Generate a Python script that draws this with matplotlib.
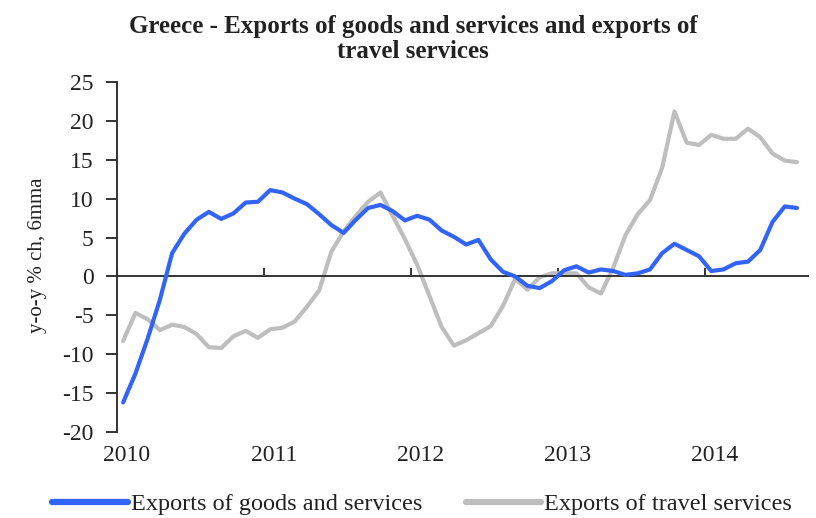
import matplotlib
matplotlib.use("Agg")
import matplotlib.pyplot as plt
import numpy as np

# Monthly data, Jan 2010 - Aug 2014 (y-o-y % ch, 6mma)
months = [f"{y}-{m:02d}" for y in range(2010, 2015) for m in range(1, 13)][:56]

goods_services = [
    -16.2, -12.5, -8.0, -3.0, 3.0, 5.5, 7.3, 8.3, 7.4, 8.1, 9.5, 9.6,
    11.1, 10.8, 10.0, 9.3, 8.0, 6.6, 5.6, 7.3, 8.8, 9.2, 8.4, 7.2,
    7.8, 7.3, 5.9, 5.1, 4.1, 4.7, 2.2, 0.6, 0.0, -1.2, -1.5, -0.6,
    0.8, 1.3, 0.5, 0.9, 0.7, 0.2, 0.4, 0.9, 3.0, 4.2, 3.4, 2.6,
    0.7, 0.9, 1.7, 1.9, 3.4, 7.0, 9.0, 8.8,
]

travel = [
    -8.3, -4.7, -5.5, -6.9, -6.2, -6.5, -7.4, -9.1, -9.2, -7.7, -7.0, -7.9,
    -6.8, -6.6, -5.8, -3.9, -1.8, 3.2, 5.8, 7.8, 9.6, 10.8, 7.8, 4.8,
    1.5, -2.5, -6.5, -8.9, -8.2, -7.3, -6.4, -3.8, -0.3, -1.7, -0.1, 0.4,
    0.4, 0.4, -1.4, -2.2, 1.1, 5.3, 8.0, 9.8, 14.0, 21.2, 17.2, 16.9,
    18.2, 17.7, 17.7, 19.0, 17.9, 15.8, 14.9, 14.7,
]

year_labels = ["2010", "2011", "2012", "2013", "2014"]
y_ticks = [25, 20, 15, 10, 5, 0, -5, -10, -15, -20]

title = "Greece - Exports of goods and services and exports of\ntravel services"
ylabel = "y-o-y % ch, 6mma"
series_names = ["Exports of goods and services", "Exports of travel services"]

BLUE = "#3264F8"
GREY = "#BEBEBE"
AXC = "#333333"
TXT = "#222222"
FONT = "Liberation Serif"

fig = plt.figure(figsize=(8.16, 5.18), dpi=100)
ax = fig.add_axes([117 / 816, 1 - 432 / 518, (808 - 117) / 816, 350 / 518])

x = np.arange(len(months)) + 0.5
l1, = ax.plot(x, goods_services, color=BLUE, lw=3.0, solid_capstyle="round", zorder=3)
l2, = ax.plot(x, travel, color=GREY, lw=3.0, solid_capstyle="round", zorder=2)

ax.set_ylim(-20, 25)
ax.set_xlim(0, 56.4)

for s in ["top", "right"]:
    ax.spines[s].set_visible(False)
ax.spines["bottom"].set_position(("data", 0))
for s in ["bottom", "left"]:
    ax.spines[s].set_color(AXC)
    ax.spines[s].set_linewidth(1.4)

ax.set_yticks(y_ticks)
ax.set_yticklabels([str(v) for v in y_ticks], fontfamily=FONT, fontsize=17, color=TXT)
ax.tick_params(axis="y", direction="out", length=8, width=1.4, color=AXC, pad=9)

year_pos = [12 * i for i in range(len(year_labels))]
ax.set_xticks(year_pos)
ax.set_xticklabels([])
ax.tick_params(axis="x", direction="in", length=6, width=1.4, color=AXC)

for p, lab in zip(year_pos, year_labels):
    ax.text(p + 0.8, -0.066, lab, transform=ax.get_xaxis_transform(),
            ha="center", va="center", fontfamily=FONT, fontsize=17, color=TXT)

fig.text(38 / 816, 1 - 255 / 518, ylabel, rotation=90, ha="center", va="center",
         fontfamily=FONT, fontsize=15, color=TXT)

fig.text(413 / 816, 1 - 39 / 518, title, ha="center", va="center", fontfamily=FONT,
         fontweight="bold", fontsize=18, color=TXT, linespacing=1.12)

leg = fig.legend([l1, l2], series_names, loc="center", bbox_to_anchor=(422 / 816, 1 - 504 / 518),
                 ncol=2, frameon=False, handlelength=3.1, handletextpad=0.12, columnspacing=1.8,
                 prop={"family": FONT, "size": 17.5})
for t in leg.get_texts():
    t.set_color(TXT)
for h in leg.legend_handles:
    h.set_linewidth(4.5)

fig.savefig("out.png", dpi=100)
